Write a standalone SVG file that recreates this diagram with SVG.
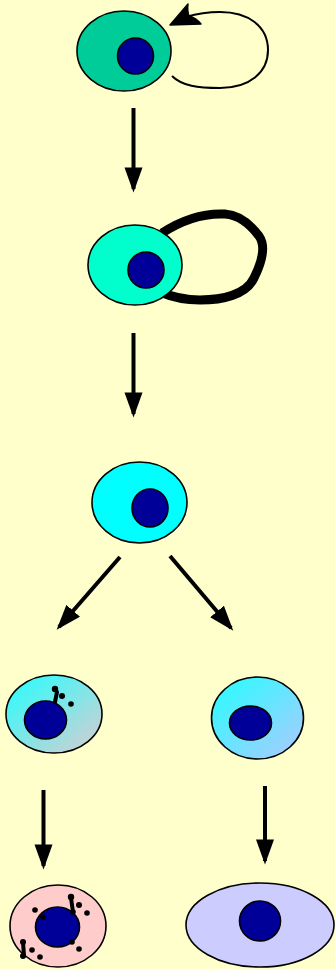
<svg xmlns="http://www.w3.org/2000/svg" width="335" height="969" viewBox="0 0 335 969">
  <style>
    .cell { stroke: #000; stroke-width: 1.6; }
    .nuc { fill: #000099; stroke: #000; stroke-width: 1.6; }
    .edge { stroke: #000; stroke-width: 4; fill: none; }
    .dot { fill: #000; }
    .stalk { stroke: #000; stroke-width: 4; stroke-linecap: round; }
  </style>
  <defs>
    <marker id="head" viewBox="0 0 14 10" refX="12" refY="5" markerWidth="6.3" markerHeight="4.6" markerUnits="strokeWidth" orient="auto">
      <path d="M0,0 L14,5 L0,10 Z" fill="#000"/>
    </marker>
    <linearGradient id="gradA" x1="0" y1="0" x2="1" y2="1">
      <stop offset="0" stop-color="#22FFFF"/>
      <stop offset="1" stop-color="#DCCCD0"/>
    </linearGradient>
    <linearGradient id="gradB" x1="0" y1="0" x2="1" y2="1">
      <stop offset="0" stop-color="#22FFFF"/>
      <stop offset="1" stop-color="#B0C8FF"/>
    </linearGradient>
  </defs>

  <rect x="0" y="0" width="335" height="969" fill="#FFFFCC"/>

  <!-- connectors -->
  <g id="connectors">
    <path class="edge" style="stroke-width:2" d="M172,76 C182,86 198,88 220,88 C250,88 268,72 268,50 C268,26 248,12 220,12 C205,12 196,14 186,17"/>
    <path d="M170,25 L188,4 Q187,11 189,16 Q196,18 201,24 Z" fill="#000" stroke="#000" stroke-width="1.5" stroke-linejoin="round"/>
    <path class="edge" style="stroke-width:9;stroke-linejoin:round" d="M162,233 C185,218 205,213 225,214 C240,215 250,224 259,236 C266,246 262,262 254,278 C246,295 222,300 200,300 C185,300 172,297 160,292"/>
    <line class="edge" x1="133.5" y1="108" x2="133.5" y2="189" marker-end="url(#head)"/>
    <line class="edge" x1="133.5" y1="333" x2="133.5" y2="414" marker-end="url(#head)"/>
    <line class="edge" x1="120" y1="557" x2="59" y2="627" marker-end="url(#head)"/>
    <line class="edge" x1="170" y1="556" x2="231" y2="628" marker-end="url(#head)"/>
    <line class="edge" x1="43.5" y1="790" x2="43.5" y2="866" marker-end="url(#head)"/>
    <line class="edge" x1="265" y1="786" x2="265" y2="861" marker-end="url(#head)"/>
  </g>

  <g id="stem-cell">
    <ellipse class="cell" cx="124" cy="51" rx="47" ry="40" fill="#00CC99"/>
    <ellipse class="nuc" cx="135.5" cy="56" rx="18" ry="18"/>
  </g>

  <g id="progenitor">
    <ellipse class="cell" cx="135" cy="265" rx="47" ry="40" fill="#00FFCC"/>
    <ellipse class="nuc" cx="146" cy="270" rx="18" ry="18"/>
  </g>

  <g id="precursor">
    <ellipse class="cell" cx="139.5" cy="502.5" rx="47.5" ry="40.5" fill="#00FFFF"/>
    <ellipse class="nuc" cx="150" cy="508" rx="18" ry="19"/>
  </g>

  <g id="branch-left">
    <ellipse class="cell" cx="54" cy="714" rx="48" ry="39" fill="url(#gradA)"/>
    <ellipse class="nuc" cx="45.5" cy="720" rx="21" ry="19"/>
    <line class="stalk" x1="55" y1="702" x2="57" y2="692"/>
    <circle class="dot" cx="55" cy="689" r="3.2"/>
    <circle class="dot" cx="62" cy="696" r="3"/>
    <circle class="dot" cx="71" cy="704" r="2.8"/>
  </g>

  <g id="branch-right">
    <ellipse class="cell" cx="257.5" cy="718" rx="46" ry="41" fill="url(#gradB)"/>
    <ellipse class="nuc" cx="250.5" cy="723" rx="21" ry="17"/>
  </g>

  <g id="mature-left">
    <ellipse class="cell" cx="58" cy="926" rx="48" ry="41" fill="#FFCCCC"/>
    <ellipse class="nuc" cx="57.5" cy="927" rx="22" ry="20"/>
    <line class="stalk" x1="71" y1="898" x2="73" y2="912"/>
    <circle class="dot" cx="71" cy="897" r="3.2"/>
    <circle class="dot" cx="79" cy="905" r="3"/>
    <circle class="dot" cx="73" cy="912" r="2.8"/>
    <circle class="dot" cx="87" cy="913" r="2.8"/>
    <circle class="dot" cx="35" cy="910" r="2.8"/>
    <circle class="dot" cx="43" cy="917" r="2.8"/>
    <circle class="dot" cx="72" cy="942" r="2.8"/>
    <circle class="dot" cx="79" cy="949" r="2.8"/>
    <line class="stalk" x1="23" y1="942" x2="24" y2="956"/>
    <circle class="dot" cx="23" cy="942" r="3"/>
    <circle class="dot" cx="32" cy="950" r="2.8"/>
    <circle class="dot" cx="23" cy="956" r="3"/>
    <circle class="dot" cx="40" cy="957" r="2.8"/>
  </g>

  <g id="mature-right">
    <ellipse class="cell" cx="260" cy="925" rx="74" ry="42" fill="#CCCCFF"/>
    <ellipse class="nuc" cx="260" cy="921" rx="20.5" ry="20"/>
  </g>
</svg>
